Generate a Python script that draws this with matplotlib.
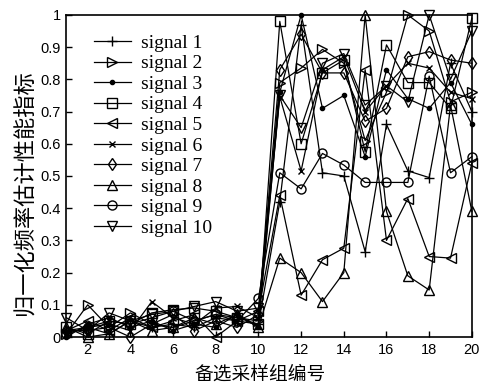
import matplotlib
matplotlib.use("Agg")
import matplotlib.pyplot as plt

x = list(range(1, 21))
labels = [f"signal {i}" for i in range(1, 11)]

s1 = [0.02, 0.03, 0.01, 0.05, 0.03, 0.04, 0.03, 0.06, 0.05, 0.04,
      0.42, 0.97, 0.51, 0.50, 0.265, 0.66, 0.516, 0.495, 0.85, 0.70]
s2 = [0.01, 0.10, 0.03, 0.075, 0.04, 0.03, 0.05, 0.07, 0.06, 0.05,
      0.79, 0.835, 0.893, 0.85, 0.61, 0.76, 1.0, 0.95, 0.73, 0.76]
s3 = [0.00, 0.04, 0.06, 0.03, 0.05, 0.02, 0.04, 0.03, 0.07, 0.03,
      0.76, 1.0, 0.71, 0.75, 0.56, 0.83, 0.74, 0.71, 0.79, 0.66]
s4 = [0.03, 0.01, 0.05, 0.04, 0.075, 0.085, 0.09, 0.08, 0.06, 0.04,
      0.98, 0.60, 0.82, 0.86, 0.575, 0.907, 0.79, 0.79, 0.71, 0.99]
s5 = [0.02, 0.05, 0.02, 0.06, 0.03, 0.05, 0.07, 0.00, 0.05, 0.08,
      0.44, 0.13, 0.24, 0.276, 0.83, 0.30, 0.43, 0.25, 0.245, 0.54]
s6 = [0.01, 0.03, 0.04, 0.02, 0.11, 0.06, 0.04, 0.09, 0.095, 0.06,
      0.746, 0.516, 0.83, 0.87, 0.70, 0.78, 0.85, 0.835, 0.76, 0.74]
s7 = [0.02, 0.02, 0.03, 0.00, 0.04, 0.07, 0.02, 0.05, 0.03, 0.07,
      0.83, 0.94, 0.82, 0.82, 0.67, 0.71, 0.87, 0.886, 0.86, 0.85]
s8 = [0.03, 0.00, 0.01, 0.05, 0.02, 0.03, 0.06, 0.04, 0.07, 0.03,
      0.245, 0.20, 0.11, 0.20, 1.0, 0.39, 0.19, 0.146, 0.72, 0.39]
s9 = [0.01, 0.03, 0.05, 0.04, 0.06, 0.08, 0.05, 0.07, 0.05, 0.12,
      0.51, 0.46, 0.57, 0.534, 0.48, 0.48, 0.48, 0.81, 0.51, 0.56]
s10 = [0.06, 0.02, 0.075, 0.05, 0.07, 0.08, 0.095, 0.11, 0.08, 0.09,
       0.75, 0.65, 0.85, 0.88, 0.72, 0.78, 0.73, 1.0, 0.80, 0.95]

series = [s1, s2, s3, s4, s5, s6, s7, s8, s9, s10]
markers = ['+', '>', '.', 's', '<', 'x', 'd', '^', 'o', 'v']
msizes = [7, 6.5, 6, 6.5, 6.5, 4, 6.5, 6.5, 6.5, 6.5]

xticks = list(range(2, 21, 2))
yticks = [0, 0.1, 0.2, 0.3, 0.4, 0.5, 0.6, 0.7, 0.8, 0.9, 1]
yticklabels = ['0', '0.1', '0.2', '0.3', '0.4', '0.5', '0.6', '0.7', '0.8', '0.9', '1']

fig = plt.figure(figsize=(4.81, 3.83), dpi=100)
ax = fig.add_axes([0.138, 0.12, 0.843, 0.841])

for ys, m, ms, lab in zip(series, markers, msizes, labels):
    ax.plot(x, ys, color='black', linewidth=0.9, marker=m, markersize=ms,
            markerfacecolor='black' if m == '.' else 'none',
            markeredgecolor='black', markeredgewidth=1.0, label=lab,
            clip_on=False)

ax.set_xlim(1, 20)
ax.set_ylim(0, 1)
ax.set_xticks(xticks)
ax.set_yticks(yticks)
ax.set_yticklabels(yticklabels)
ax.tick_params(direction='in', length=4, width=1, labelsize=10.5,
               top=False, right=False, pad=4)
for lbl in ax.get_xticklabels() + ax.get_yticklabels():
    lbl.set_fontfamily('Liberation Sans')
for sp in ax.spines.values():
    sp.set_linewidth(1.2)

ax.set_xlabel('备选采样组编号', fontfamily='Noto Sans CJK SC', fontsize=13.5, labelpad=5)
ax.set_ylabel('归一化频率估计性能指标', fontfamily='Noto Sans CJK SC', fontsize=16, labelpad=3)
ax.xaxis.label.set_x(0.477)
ax.yaxis.label.set_y(0.447)

leg = ax.legend(loc='upper left', bbox_to_anchor=(0.068, 0.94), frameon=False,
                prop={'family': 'Liberation Serif', 'size': 14},
                handlelength=1.9, handletextpad=0.5, labelspacing=0.15,
                borderpad=0, borderaxespad=0)

fig.savefig('out.png', dpi=100)
